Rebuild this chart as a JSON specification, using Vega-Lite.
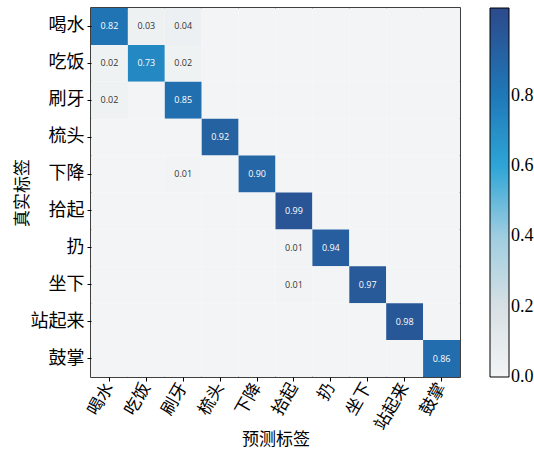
{
  "$schema": "https://vega.github.io/schema/vega-lite/v6.json",
  "width": 369,
  "height": 369,
  "autosize": "none",
  "padding": {"left": 91, "top": 8, "right": 74, "bottom": 75},
  "background": "white",
  "config": {
    "view": {"stroke": "black", "strokeWidth": 1.5},
    "axis": {"labelFont": "Noto Sans CJK SC", "titleFont": "Noto Sans CJK SC", "labelColor": "black", "titleColor": "black", "tickColor": "black", "domain": false, "grid": false, "tickSize": 4, "labelFontSize": 17, "titleFontSize": 17, "titleFontWeight": "normal"}
  },
  "data": {"values": [
    {"t":"喝水","p":"喝水","v":0.82},{"t":"喝水","p":"吃饭","v":0.03},{"t":"喝水","p":"刷牙","v":0.04},{"t":"喝水","p":"梳头","v":0},{"t":"喝水","p":"下降","v":0},{"t":"喝水","p":"拾起","v":0},{"t":"喝水","p":"扔","v":0},{"t":"喝水","p":"坐下","v":0},{"t":"喝水","p":"站起来","v":0},{"t":"喝水","p":"鼓掌","v":0},
    {"t":"吃饭","p":"喝水","v":0.02},{"t":"吃饭","p":"吃饭","v":0.73},{"t":"吃饭","p":"刷牙","v":0.02},{"t":"吃饭","p":"梳头","v":0},{"t":"吃饭","p":"下降","v":0},{"t":"吃饭","p":"拾起","v":0},{"t":"吃饭","p":"扔","v":0},{"t":"吃饭","p":"坐下","v":0},{"t":"吃饭","p":"站起来","v":0},{"t":"吃饭","p":"鼓掌","v":0},
    {"t":"刷牙","p":"喝水","v":0.02},{"t":"刷牙","p":"吃饭","v":0},{"t":"刷牙","p":"刷牙","v":0.85},{"t":"刷牙","p":"梳头","v":0},{"t":"刷牙","p":"下降","v":0},{"t":"刷牙","p":"拾起","v":0},{"t":"刷牙","p":"扔","v":0},{"t":"刷牙","p":"坐下","v":0},{"t":"刷牙","p":"站起来","v":0},{"t":"刷牙","p":"鼓掌","v":0},
    {"t":"梳头","p":"喝水","v":0},{"t":"梳头","p":"吃饭","v":0},{"t":"梳头","p":"刷牙","v":0},{"t":"梳头","p":"梳头","v":0.92},{"t":"梳头","p":"下降","v":0},{"t":"梳头","p":"拾起","v":0},{"t":"梳头","p":"扔","v":0},{"t":"梳头","p":"坐下","v":0},{"t":"梳头","p":"站起来","v":0},{"t":"梳头","p":"鼓掌","v":0},
    {"t":"下降","p":"喝水","v":0},{"t":"下降","p":"吃饭","v":0},{"t":"下降","p":"刷牙","v":0.01},{"t":"下降","p":"梳头","v":0},{"t":"下降","p":"下降","v":0.90},{"t":"下降","p":"拾起","v":0},{"t":"下降","p":"扔","v":0},{"t":"下降","p":"坐下","v":0},{"t":"下降","p":"站起来","v":0},{"t":"下降","p":"鼓掌","v":0},
    {"t":"拾起","p":"喝水","v":0},{"t":"拾起","p":"吃饭","v":0},{"t":"拾起","p":"刷牙","v":0},{"t":"拾起","p":"梳头","v":0},{"t":"拾起","p":"下降","v":0},{"t":"拾起","p":"拾起","v":0.99},{"t":"拾起","p":"扔","v":0},{"t":"拾起","p":"坐下","v":0},{"t":"拾起","p":"站起来","v":0},{"t":"拾起","p":"鼓掌","v":0},
    {"t":"扔","p":"喝水","v":0},{"t":"扔","p":"吃饭","v":0},{"t":"扔","p":"刷牙","v":0},{"t":"扔","p":"梳头","v":0},{"t":"扔","p":"下降","v":0},{"t":"扔","p":"拾起","v":0.01},{"t":"扔","p":"扔","v":0.94},{"t":"扔","p":"坐下","v":0},{"t":"扔","p":"站起来","v":0},{"t":"扔","p":"鼓掌","v":0},
    {"t":"坐下","p":"喝水","v":0},{"t":"坐下","p":"吃饭","v":0},{"t":"坐下","p":"刷牙","v":0},{"t":"坐下","p":"梳头","v":0},{"t":"坐下","p":"下降","v":0},{"t":"坐下","p":"拾起","v":0.01},{"t":"坐下","p":"扔","v":0},{"t":"坐下","p":"坐下","v":0.97},{"t":"坐下","p":"站起来","v":0},{"t":"坐下","p":"鼓掌","v":0},
    {"t":"站起来","p":"喝水","v":0},{"t":"站起来","p":"吃饭","v":0},{"t":"站起来","p":"刷牙","v":0},{"t":"站起来","p":"梳头","v":0},{"t":"站起来","p":"下降","v":0},{"t":"站起来","p":"拾起","v":0},{"t":"站起来","p":"扔","v":0},{"t":"站起来","p":"坐下","v":0},{"t":"站起来","p":"站起来","v":0.98},{"t":"站起来","p":"鼓掌","v":0},
    {"t":"鼓掌","p":"喝水","v":0},{"t":"鼓掌","p":"吃饭","v":0},{"t":"鼓掌","p":"刷牙","v":0},{"t":"鼓掌","p":"梳头","v":0},{"t":"鼓掌","p":"下降","v":0},{"t":"鼓掌","p":"拾起","v":0},{"t":"鼓掌","p":"扔","v":0},{"t":"鼓掌","p":"坐下","v":0},{"t":"鼓掌","p":"站起来","v":0},{"t":"鼓掌","p":"鼓掌","v":0.86}
  ]},
  "encoding": {
    "x": {"field": "p", "type": "nominal", "sort": ["喝水","吃饭","刷牙","梳头","下降","拾起","扔","坐下","站起来","鼓掌"], "title": "预测标签", "axis": {"labelAngle": -60, "labelAlign": "right", "labelBaseline": "middle", "labelPadding": 3, "titleY": 54, "titleBaseline": "top"}},
    "y": {"field": "t", "type": "nominal", "sort": ["喝水","吃饭","刷牙","梳头","下降","拾起","扔","坐下","站起来","鼓掌"], "title": "真实标签", "axis": {"labelPadding": 3, "labelFontSize": 18, "titleX": -69, "titleBaseline": "middle"}}
  },
  "layer": [
    {
      "mark": {"type": "rect"},
      "encoding": {
        "color": {"field": "v", "type": "quantitative", "title": null,
          "scale": {"domain": [0, 0.2, 0.4, 0.6, 0.8, 1.05], "range": ["#f2f4f5", "#d7e0e4", "#9fcde0", "#2ea5d6", "#1f78b8", "#2c4a8b"], "interpolate": "rgb"},
          "legend": {"orient": "none", "legendX": 399, "legendY": 0, "direction": "vertical", "gradientLength": 369, "gradientThickness": 19, "gradientStrokeColor": "black", "gradientStrokeWidth": 1, "values": [0, 0.2, 0.4, 0.6, 0.8], "format": ".1f", "labelFont": "Liberation Serif", "labelFontSize": 18, "labelColor": "black", "labelOffset": 2, "labelOverlap": false,
            "encode": {"labels": {"update": {"baseline": {"value": "middle"}}}}}
        }
      }
    },
    {
      "transform": [{"filter": "datum.v > 0"}],
      "mark": {"type": "text", "font": "Open Sans", "fontSize": 9},
      "encoding": {
        "text": {"field": "v", "type": "quantitative", "format": ".2f"},
        "color": {"condition": {"test": "datum.v > 0.5", "value": "white"}, "value": "#333333"}
      }
    }
  ]
}
